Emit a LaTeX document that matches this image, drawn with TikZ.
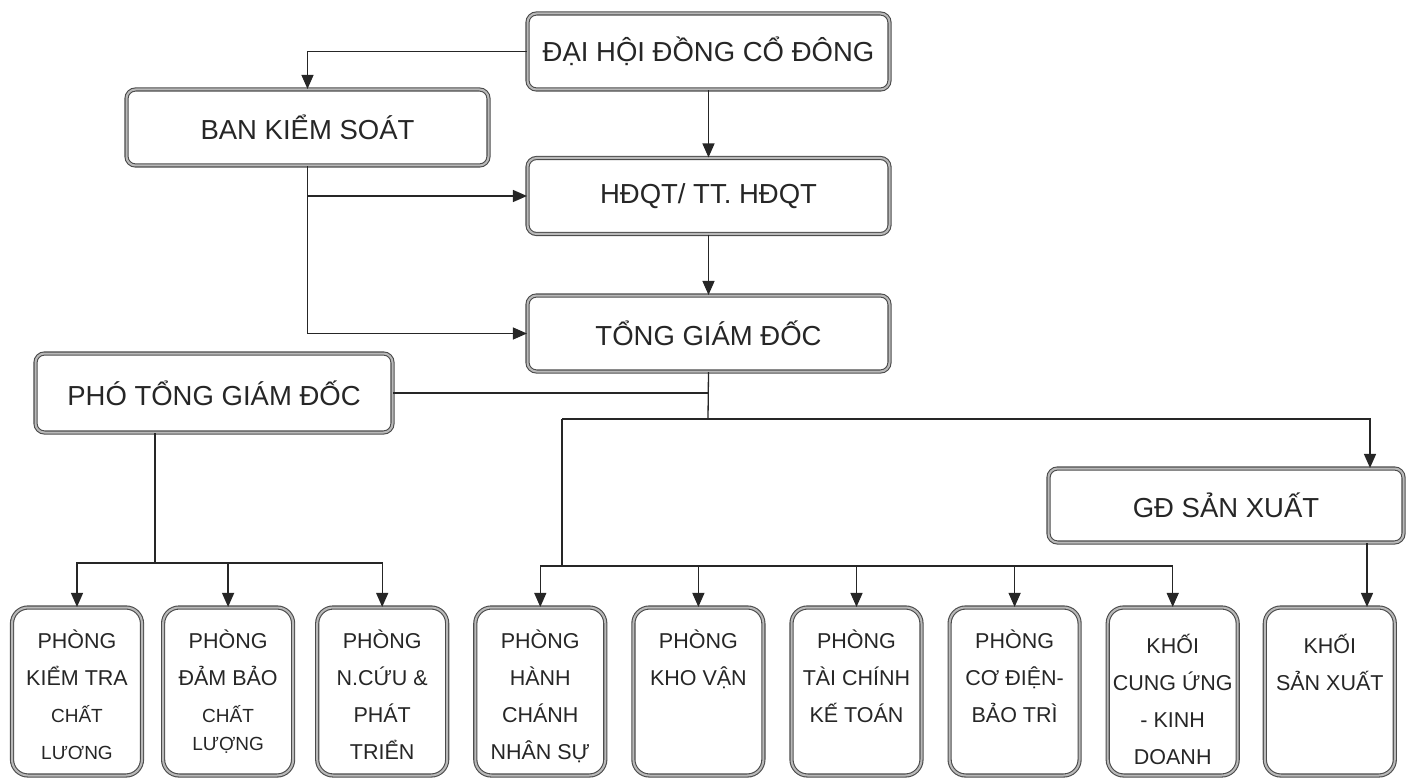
\documentclass[tikz,border=0pt]{standalone}
\usepackage{fontspec}
\setmainfont{Liberation Sans}
\usetikzlibrary{positioning,arrows.meta}
\newcommand{\deptfont}{\fontsize{21.5pt}{37pt}\selectfont}
\newcommand{\smline}{\fontsize{19pt}{37pt}\selectfont}
\newcommand{\dept}[1]{\parbox[c][123pt][t]{128pt}{\centering\deptfont #1}}

\begin{document}
\begin{tikzpicture}[x=1pt, y=-1pt, font=\fontsize{27.5pt}{30pt}\selectfont, text=black!85,
  box/.style={draw=black!70, double=gray!55, double distance=2pt, line width=1.1pt, rounded corners=9pt, inner sep=2pt, fill=white},
  head/.style={box, minimum width=362pt, minimum height=76pt},
  unit/.style={box, rounded corners=16pt, minimum width=130pt, minimum height=168pt, inner sep=0pt},
  link/.style={line width=1.3pt, draw=black!85}, arr/.style={link, -{Triangle[length=14pt, width=12pt]}}]
\useasboundingbox (0,0) rectangle (1406,778);
\node[head] (dhdcd) at (708.5,51.5) {ĐẠI HỘI ĐỒNG CỔ ĐÔNG};
\node[head] (bks) at (307.5,127.5) {BAN KIỂM SOÁT};
\node[head] (hdqt) at (708.5,196) {HĐQT/ TT. HĐQT};
\node[head] (tgd) at (708.5,333.5) {TỔNG GIÁM ĐỐC};
\node[head, minimum width=357pt, minimum height=79pt] (ptgd) at (214,393) {PHÓ TỔNG GIÁM ĐỐC};
\node[head, minimum width=355pt, minimum height=74pt] (gdsx) at (1226,505.5) {GĐ SẢN XUẤT};
% phong ban / khoi
\node[unit] (kt) at (77,691.5) {\dept{PHÒNG\\KIỂM TRA\\{\smline CHẤT\\LƯƠNG}}};
\node[unit, right=20pt of kt] (db) {\dept{PHÒNG\\ĐẢM BẢO\\{\smline CHẤT\\[-9pt]LƯỢNG}}};
\node[unit, right=23pt of db] (nc) {\dept{PHÒNG\\N.CỨU \&\\PHÁT\\TRIỂN}};
\node[unit, right=27pt of nc] (hc) {\dept{PHÒNG\\HÀNH\\CHÁNH\\NHÂN SỰ}};
\node[unit, right=27pt of hc] (kv) {\dept{PHÒNG\\KHO VẬN}};
\node[unit, right=27pt of kv] (tc) {\dept{PHÒNG\\TÀI CHÍNH\\KẾ TOÁN}};
\node[unit, right=27pt of tc] (cd) {\dept{PHÒNG\\CƠ ĐIỆN-\\BẢO TRÌ}};
\node[unit, right=27pt of cd] (cu) {\dept{\vspace*{4pt}KHỐI\\CUNG ỨNG\\- KINH\\DOANH}};
\node[unit, right=26pt of cu] (sx) {\dept{\vspace*{4pt}KHỐI\\SẢN XUẤT}};
\coordinate (hub) at (708,419); \coordinate (drop) at (562,419);
\coordinate (busr) at (562,566); \coordinate (busl) at (155,563);
\draw[arr] (dhdcd.west) -| (bks.north); \draw[arr] (dhdcd) -- (hdqt);
\draw[arr] (bks.south) |- (tgd.west); \draw[arr] (bks.south |- hdqt.west) -- (hdqt.west);
\draw[arr] (hdqt) -- (tgd);
\draw[link] (tgd.south) -- (hub); \draw[link] (ptgd.east) -- (ptgd.east -| hub);
\draw[arr] (drop) -| ([xshift=144pt]gdsx.north); \draw[link] (drop) -- (busr);
\foreach \u in {hc,kv,tc,cd,cu} \draw[arr] (busr) -| (\u.north);
\draw[link] ([xshift=-59pt]ptgd.south) -- (busl);
\foreach \u in {kt,db,nc} \draw[arr] (busl) -| (\u.north);
\draw[arr] ([xshift=141pt]gdsx.south) -- ([xshift=141pt]gdsx.south |- sx.north);
\end{tikzpicture}
\end{document}
